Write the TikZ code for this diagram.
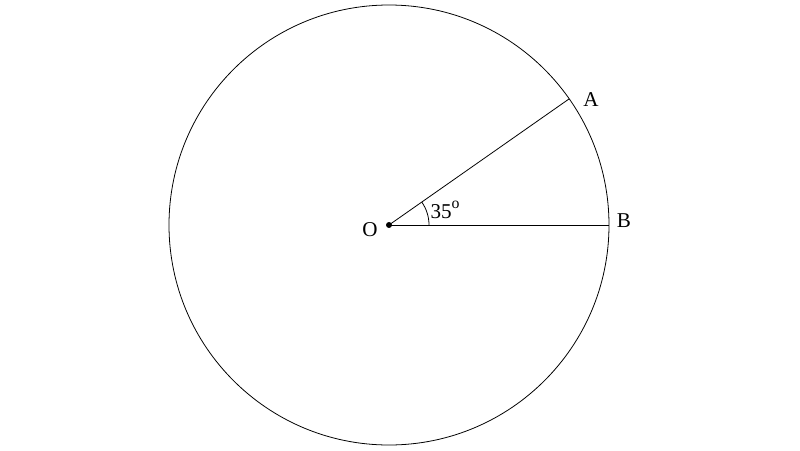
\documentclass[tikz,border=0pt]{standalone}
\usepackage{fontspec}
\setmainfont{Liberation Serif}
\begin{document}
\begin{tikzpicture}
        [
        Tag/.style={rectangle, inner sep=1pt, font=\fontsize{12}{14}\selectfont},
        Edge/.style={line width=0.45pt},
        ]
        \useasboundingbox (-7.78,-4.5) rectangle (8.22,4.5);
        \draw[Edge] (0,0) circle (4.4);
        \coordinate (O) at (0,0);
        \coordinate (A) at (35:4.4);
        \coordinate (B) at (0:4.4);
        \draw[Edge] (O) -- (A);
        \draw[Edge] (O) -- (B);
        \draw[Edge] (0.8,0) arc (0:35:0.8);
        \fill (O) circle (1.7pt);
        \node[Tag] (tagO) at (-0.38,-0.1){O};
        \node[Tag] (tagA) at (4.04,2.5){A};
        \node[Tag] (tagB) at (4.7,0.08){B};
        \node[Tag] (tagang) at (1.12,0.3){35\raisebox{1.1ex}{\fontsize{9}{9}\selectfont o}};
    \end{tikzpicture}
\end{document}
